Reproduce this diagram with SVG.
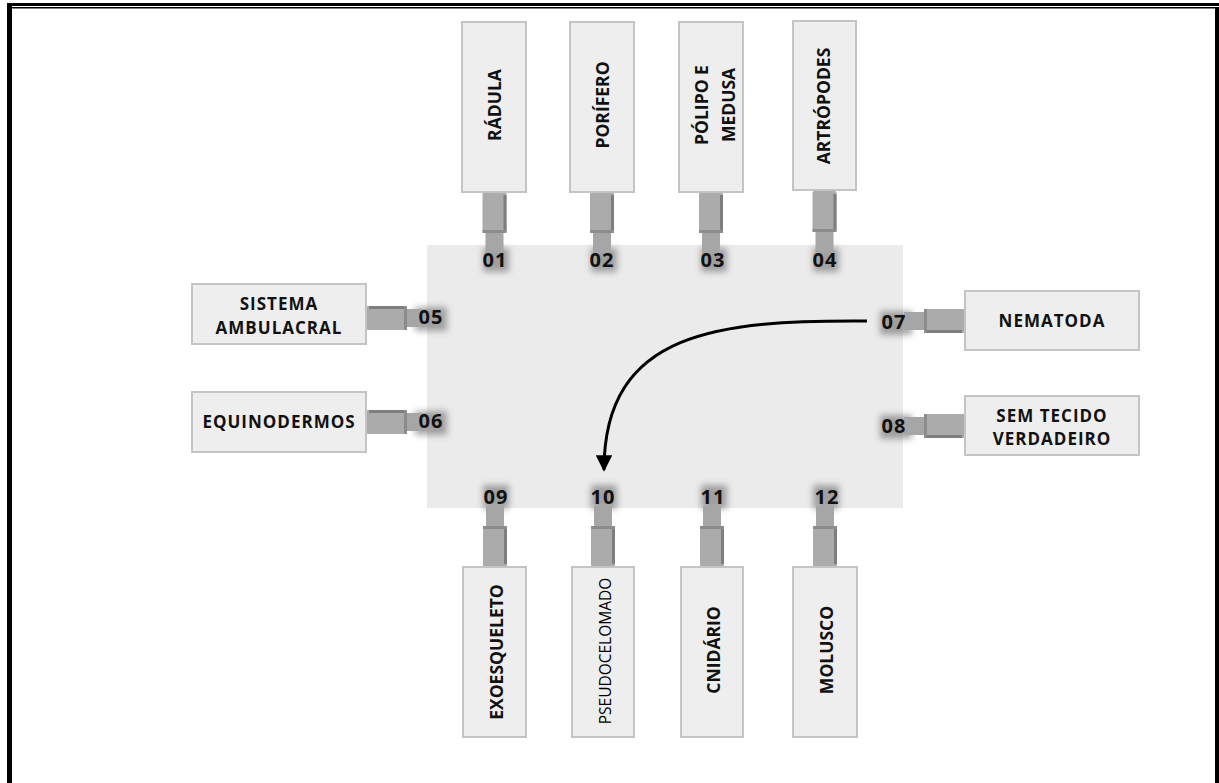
<svg xmlns="http://www.w3.org/2000/svg" width="1219" height="783" viewBox="0 0 1219 783">
<style>
.card{fill:#eeeeee;stroke:#c4c4c4;stroke-width:2}
.t{font-family:"Open Sans","Liberation Sans",sans-serif;font-weight:bold;font-size:17px;fill:#111;text-anchor:middle}
.v{font-size:17.5px}
.h{letter-spacing:1px}
.r{font-weight:normal;font-size:15.5px;fill:#000}
.n{font-family:"Open Sans","Liberation Sans",sans-serif;font-weight:bold;font-size:20px;fill:#111;text-anchor:middle;letter-spacing:1px}
.sh{fill:#555;opacity:0.5;filter:url(#blur)}
</style>
<defs>
<filter id="blur" x="-50%" y="-50%" width="200%" height="200%"><feGaussianBlur stdDeviation="3"/></filter>
<g id="clip">
<rect x="-12" y="0" width="24" height="41" rx="2" fill="#ababab"/>
<rect x="9" y="3" width="3" height="37" fill="#7e7e7e"/>
<rect x="-12" y="38" width="24" height="3" fill="#8c8c8c"/>
<rect x="-9" y="41" width="18" height="20" fill="#a6a6a6"/>
</g>
<marker id="ah" viewBox="0 0 10 10" refX="9" refY="5" markerWidth="5.5" markerHeight="5.5" orient="auto-start-reverse" markerUnits="strokeWidth"><path d="M0,0 L10,5 L0,10 z" fill="#000"/></marker>
</defs>
<rect width="1219" height="783" fill="#fff"/>
<g id="border">
<rect x="7" y="3" width="1212" height="3" fill="#000"/>
<rect x="7" y="7" width="1210" height="1.5" fill="#000"/>
<rect x="7" y="3" width="5" height="780" fill="#000"/>
<rect x="1215" y="7" width="4" height="776" fill="#000"/>
</g>
<g id="board"><rect x="427" y="245" width="476" height="263" fill="#ebebeb"/></g>
<g id="shadows">
<rect class="sh" x="483" y="248" width="26" height="24"/>
<rect class="sh" x="591" y="248" width="26" height="24"/>
<rect class="sh" x="701" y="248" width="26" height="24"/>
<rect class="sh" x="813" y="248" width="26" height="24"/>
<rect class="sh" x="483" y="485" width="26" height="24"/>
<rect class="sh" x="591" y="485" width="26" height="24"/>
<rect class="sh" x="701" y="485" width="26" height="24"/>
<rect class="sh" x="813" y="485" width="26" height="24"/>
<rect class="sh" x="415" y="307" width="32" height="24"/>
<rect class="sh" x="415" y="411" width="32" height="24"/>
<rect class="sh" x="880" y="311" width="32" height="24"/>
<rect class="sh" x="880" y="415" width="32" height="24"/>
</g>
<g id="connectors">
<use href="#clip" transform="translate(494.5,192)"/>
<use href="#clip" transform="translate(602,192)"/>
<use href="#clip" transform="translate(711,192)"/>
<use href="#clip" transform="translate(824.5,191)"/>
<use href="#clip" transform="translate(495,567) scale(1,-1)"/>
<use href="#clip" transform="translate(603,567) scale(1,-1)"/>
<use href="#clip" transform="translate(712,567) scale(1,-1)"/>
<use href="#clip" transform="translate(825,567) scale(1,-1)"/>
<use href="#clip" transform="translate(366,318) rotate(-90)"/>
<use href="#clip" transform="translate(366,422) rotate(-90)"/>
<use href="#clip" transform="translate(965,321) rotate(90)"/>
<use href="#clip" transform="translate(965,426) rotate(90)"/>
<path d="M867,321 C720,320 604,330 604,470" fill="none" stroke="#000" stroke-width="3" marker-end="url(#ah)"/>
</g>
<g id="numbers">
<text class="n" x="495" y="267">01</text>
<text class="n" x="602" y="267">02</text>
<text class="n" x="713" y="267">03</text>
<text class="n" x="825" y="267">04</text>
<text class="n" x="431" y="324">05</text>
<text class="n" x="431" y="428">06</text>
<text class="n" x="894" y="329">07</text>
<text class="n" x="894" y="433">08</text>
<text class="n" x="496" y="504">09</text>
<text class="n" x="603" y="504">10</text>
<text class="n" x="713" y="504">11</text>
<text class="n" x="827" y="504">12</text>
</g>
<g id="n-radula"><rect class="card" x="462" y="22" width="64" height="170"/><text class="t v" transform="translate(501,105) rotate(-90)">RÁDULA</text></g>
<g id="n-porifero"><rect class="card" x="570" y="22" width="64" height="170"/><text class="t v" transform="translate(609,105) rotate(-90)">PORÍFERO</text></g>
<g id="n-polipo"><rect class="card" x="679" y="22" width="64" height="170"/><text class="t v" transform="translate(708,105) rotate(-90)">PÓLIPO E</text><text class="t v" transform="translate(735,105) rotate(-90)">MEDUSA</text></g>
<g id="n-artropodes"><rect class="card" x="793" y="21" width="63" height="169"/><text class="t v" transform="translate(830,106) rotate(-90)">ARTRÓPODES</text></g>
<g id="n-sistema"><rect class="card" x="192" y="284" width="174" height="60"/><text class="t h" x="279" y="310">SISTEMA</text><text class="t h" x="279" y="334">AMBULACRAL</text></g>
<g id="n-equinodermos"><rect class="card" x="192" y="392" width="174" height="60"/><text class="t h" x="279" y="428">EQUINODERMOS</text></g>
<g id="n-nematoda"><rect class="card" x="965" y="291" width="174" height="59"/><text class="t h" x="1052" y="327">NEMATODA</text></g>
<g id="n-semtecido"><rect class="card" x="965" y="396" width="174" height="59"/><text class="t h" x="1052" y="422">SEM TECIDO</text><text class="t h" x="1052" y="445">VERDADEIRO</text></g>
<g id="n-exoesqueleto"><rect class="card" x="463" y="567" width="63" height="170"/><text class="t v" transform="translate(503,652) rotate(-90)">EXOESQUELETO</text></g>
<g id="n-pseudocelomado"><rect class="card" x="572" y="567" width="62" height="170"/><text class="t r" transform="translate(611,651) rotate(-90)">PSEUDOCELOMADO</text></g>
<g id="n-cnidario"><rect class="card" x="681" y="567" width="62" height="170"/><text class="t v" transform="translate(720,650) rotate(-90)">CNIDÁRIO</text></g>
<g id="n-molusco"><rect class="card" x="793" y="567" width="64" height="170"/><text class="t v" transform="translate(833,650) rotate(-90)">MOLUSCO</text></g>
</svg>
